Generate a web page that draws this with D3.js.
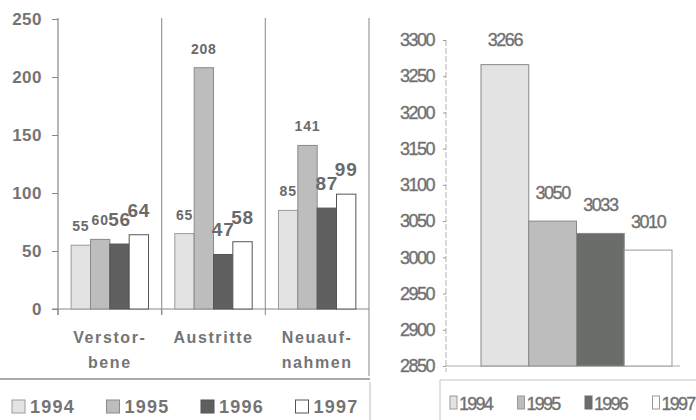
<!DOCTYPE html>
<html>
<head>
<meta charset="utf-8">
<script src="https://cdn.jsdelivr.net/npm/d3@7"></script>
<style>
  html, body { margin: 0; padding: 0; background: #fff; }
  svg { display: block; }
</style>
</head>
<body>
<div id="chart"></div>
<script>
// Data
const categories = ["Verstorbene", "Austritte", "Neuaufnahmen"];
const categoryLines = [["Verstor-", "bene"], ["Austritte"], ["Neuauf-", "nahmen"]];
const years = ["1994", "1995", "1996", "1997"];
const values1994 = [55, 65, 85];
const values1995 = [60, 208, 141];
const values1996 = [56, 47, 87];
const values1997 = [64, 58, 99];
const leftTicks = [0, 50, 100, 150, 200, 250];

const members = [3266, 3050, 3033, 3010];
const rightTicks = [2850, 2900, 2950, 3000, 3050, 3100, 3150, 3200, 3250, 3300];

const W = 696, H = 420;
const textCol = "#747474";
const fills = { "1994": "#e3e3e3", "1995": "#bdbdbd", "1996": "#5f5f5f", "1997": "#ffffff" };
const strokes = { "1994": "#9a9a9a", "1995": "#8a8a8a", "1996": "#555", "1997": "#555" };
const labelSize = { "1994": 14, "1995": 14, "1996": 19, "1997": 19 };

const svg = d3.select("#chart").append("svg")
  .attr("width", W).attr("height", H)
  .attr("viewBox", `0 0 ${W} ${H}`);

// ---------- Left chart ----------
const rows = categories.map((c, i) => ({
  cat: c,
  vals: [values1994[i], values1995[i], values1996[i], values1997[i]]
}));

const x0 = d3.scaleBand().domain(categories).range([58, 369]).padding(0);
const x1 = d3.scaleBand().domain(years).range([0, x0.bandwidth()])
  .paddingInner(0).paddingOuter(0.68);
const yL = d3.scaleLinear().domain([0, 250]).range([309, 19]);

const left = svg.append("g").attr("font-family", "'Liberation Sans', Arial, sans-serif");

// category separators
const bounds = categories.map(c => x0(c)).concat([x0.range()[1]]);
left.selectAll("line.sep")
  .data(bounds.slice(1))
  .join("line")
  .attr("class", "sep")
  .attr("x1", d => d).attr("x2", d => d)
  .attr("y1", 18).attr("y2", (d, i) => i === 2 ? 376 : 315)
  .attr("stroke", "#9a9a9a").attr("stroke-width", 1.2);
left.append("line")
  .attr("x1", 370).attr("x2", 370).attr("y1", 382).attr("y2", 420)
  .attr("stroke", "#bbb");

// x baseline with ticks
left.append("line")
  .attr("x1", 52).attr("x2", 369).attr("y1", yL(0)).attr("y2", yL(0))
  .attr("stroke", "#888").attr("stroke-width", 1.2);
left.selectAll("line.xt")
  .data(bounds.slice(0, 2))
  .join("line")
  .attr("class", "xt")
  .attr("x1", d => d).attr("x2", d => d)
  .attr("y1", yL(0)).attr("y2", 315)
  .attr("stroke", "#888");

// y axis
const yAxisL = d3.axisLeft(yL).tickValues(leftTicks).tickSize(6).tickSizeOuter(0).tickPadding(10);
const gyL = left.append("g").attr("transform", "translate(58,0)").call(yAxisL);
gyL.select(".domain").attr("stroke", "#888").attr("stroke-width", 1.2)
  .attr("d", "M0,18V315");
gyL.selectAll(".tick line").attr("stroke", "#888");
gyL.selectAll(".tick text")
  .attr("font-family", "'Liberation Sans', Arial, sans-serif")
  .attr("font-size", 17).attr("font-weight", "bold")
  .attr("letter-spacing", 0.5)
  .attr("fill", textCol);

// bars
const groups = left.selectAll("g.cat")
  .data(rows)
  .join("g")
  .attr("class", "cat")
  .attr("transform", d => `translate(${x0(d.cat)},0)`);

groups.selectAll("rect")
  .data(d => d.vals.map((v, i) => ({ year: years[i], v })))
  .join("rect")
  .attr("x", d => x1(d.year))
  .attr("width", x1.bandwidth())
  .attr("y", d => yL(d.v))
  .attr("height", d => yL(0) - yL(d.v))
  .attr("fill", d => fills[d.year])
  .attr("stroke", d => strokes[d.year])
  .attr("stroke-width", 1);

groups.selectAll("text.val")
  .data(d => d.vals.map((v, i) => ({ year: years[i], v })))
  .join("text")
  .attr("class", "val")
  .attr("x", d => x1(d.year) + x1.bandwidth() / 2)
  .attr("y", d => yL(d.v) - (labelSize[d.year] > 15 ? 18 : 14))
  .attr("text-anchor", "middle")
  .attr("font-size", d => labelSize[d.year])
  .attr("font-weight", "bold")
  .attr("letter-spacing", 0.8)
  .attr("fill", "#6a6a6a")
  .text(d => d.v);

// category labels
left.selectAll("text.cat")
  .data(categories)
  .join("text")
  .attr("class", "cat")
  .attr("x", d => x0(d) + x0.bandwidth() / 2)
  .attr("y", 343)
  .attr("text-anchor", "middle")
  .attr("font-size", 16).attr("font-weight", "bold")
  .attr("letter-spacing", 1.6)
  .attr("fill", textCol)
  .selectAll("tspan")
  .data((d, i) => categoryLines[i])
  .join("tspan")
  .attr("x", function () { return d3.select(this.parentNode).attr("x"); })
  .attr("dy", (d, i) => i === 0 ? 0 : 25)
  .text(d => d);

// legend
left.append("line")
  .attr("x1", 0).attr("x2", 370).attr("y1", 379).attr("y2", 379)
  .attr("stroke", "#aaa").attr("stroke-width", 2);
const legL = left.selectAll("g.leg")
  .data(years)
  .join("g")
  .attr("class", "leg")
  .attr("transform", (d, i) => `translate(${12 + i * 94.5},400)`);
legL.append("rect")
  .attr("width", 13).attr("height", 13)
  .attr("fill", d => fills[d])
  .attr("stroke", d => strokes[d]);
legL.append("text")
  .attr("x", 18).attr("y", 13)
  .attr("font-size", 18).attr("font-weight", "bold")
  .attr("letter-spacing", 1.2)
  .attr("fill", textCol)
  .text(d => d);

// ---------- Right chart ----------
const right = svg.append("g").attr("font-family", "'Liberation Sans', Arial, sans-serif");
const xR = d3.scaleBand().domain(years).range([481, 672]).padding(0);
const yR = d3.scaleLinear().domain([2850, 3300]).range([366, 40]);

const yAxisR = d3.axisLeft(yR).tickValues(rightTicks).tickFormat(d3.format("d"))
  .tickSize(3).tickSizeOuter(0).tickPadding(9);
const gyR = right.append("g").attr("transform", "translate(446,0)").call(yAxisR);
gyR.select(".domain").attr("stroke", "#b0b0b0").attr("stroke-dasharray", "6,2")
  .attr("d", "M0,40V372");
gyR.selectAll(".tick line").attr("stroke", "#999");
gyR.selectAll(".tick text")
  .attr("font-family", "'Liberation Sans', Arial, sans-serif")
  .attr("font-size", 18).attr("letter-spacing", -1.5)
  .attr("stroke", "#7a7a7a").attr("stroke-width", 0.4)
  .attr("fill", "#6e6e6e");

right.append("line")
  .attr("x1", 446).attr("x2", 680).attr("y1", yR(2850)).attr("y2", yR(2850))
  .attr("stroke", "#aaa");

right.selectAll("rect.bar")
  .data(members.map((v, i) => ({ year: years[i], v })))
  .join("rect")
  .attr("class", "bar")
  .attr("x", d => xR(d.year))
  .attr("width", xR.bandwidth())
  .attr("y", d => yR(d.v))
  .attr("height", d => yR(2850) - yR(d.v))
  .attr("fill", d => d.year === "1996" ? "#6a6d6a" : fills[d.year])
  .attr("stroke", d => d.year === "1997" ? "#999" : "#888")
  .attr("stroke-width", 1);

right.selectAll("text.val")
  .data(members.map((v, i) => ({ year: years[i], v })))
  .join("text")
  .attr("class", "val")
  .attr("x", d => xR(d.year) + xR.bandwidth() / 2)
  .attr("y", (d, i) => yR(d.v) - (i === 0 ? 19 : 22))
  .attr("text-anchor", "middle")
  .attr("font-size", 18).attr("letter-spacing", -1.5)
  .attr("stroke", "#7a7a7a").attr("stroke-width", 0.4)
  .attr("fill", "#6e6e6e")
  .text(d => d.v);

// legend box
right.append("line")
  .attr("x1", 440).attr("x2", 696).attr("y1", 380).attr("y2", 380)
  .attr("stroke", "#c4c4c4");
right.append("line")
  .attr("x1", 440).attr("x2", 440).attr("y1", 380).attr("y2", 420)
  .attr("stroke", "#c4c4c4");
const legR = right.selectAll("g.leg")
  .data(years)
  .join("g")
  .attr("class", "leg")
  .attr("transform", (d, i) => `translate(${459 + i * 67.5},396)`);
legR.append("rect")
  .attr("x", -9).attr("width", 7).attr("height", 13)
  .attr("fill", d => d === "1996" ? "#6a6d6a" : fills[d])
  .attr("stroke", d => d === "1996" ? "#6a6d6a" : "#999");
legR.append("text")
  .attr("x", 0).attr("y", 14)
  .attr("font-size", 18).attr("letter-spacing", -1.8)
  .attr("stroke", "#7a7a7a").attr("stroke-width", 0.4)
  .attr("fill", "#6e6e6e")
  .text(d => d);
</script>
</body>
</html>
